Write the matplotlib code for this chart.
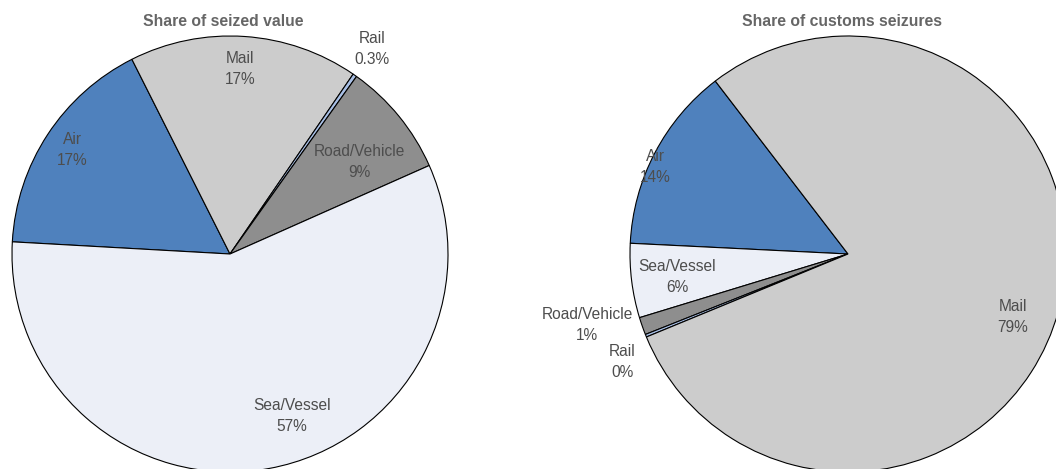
import matplotlib
matplotlib.use("Agg")
import matplotlib.pyplot as plt

plt.rcParams['font.family'] = ['Liberation Sans', 'DejaVu Sans']

# ---- data ----
left_title = "Share of seized value"
left_cats = ["Air", "Mail", "Rail", "Road/Vehicle", "Sea/Vessel"]
left_vals = [16.7, 17.0, 0.3, 8.5, 57.6]
left_labels = ["17%", "17%", "0.3%", "9%", "57%"]

right_title = "Share of customs seizures"
right_cats = ["Air", "Sea/Vessel", "Road/Vehicle", "Rail", "Mail"]
right_vals = [13.8, 5.5, 1.3, 0.2, 79.2]
right_labels = ["14%", "6%", "1%", "0%", "79%"]

colors = {"Air": "#4F81BD", "Mail": "#CCCCCC", "Rail": "#A9C0E6",
          "Road/Vehicle": "#8E8E8E", "Sea/Vessel": "#ECEFF7"}

W, H = 1056, 469
fig = plt.figure(figsize=(W / 100, H / 100), dpi=100)
txt_color = "#4D4D4D"
R = 218


def make_axes(cx, cy):
    return fig.add_axes([(cx - R) / W, (H - cy - R) / H, 2 * R / W, 2 * R / H])


def draw(ax, cats, vals, start, ccw, title, labels, label_pos, title_xy):
    ax.pie(vals, colors=[colors[c] for c in cats], startangle=start,
           counterclock=ccw, radius=1,
           wedgeprops=dict(edgecolor="black", linewidth=0.8, clip_on=False))
    ax.set_xlim(-1, 1)
    ax.set_ylim(-1, 1)
    ax.set_aspect('equal')
    ax.axis('off')
    for c, lab in zip(cats, labels):
        px, py = label_pos[c]
        ax.text(px, py, f"{c}\n{lab}", ha="center", va="center", fontsize=11.2,
                color=txt_color, linespacing=1.45)
    fig.text(title_xy[0] / W, 1 - title_xy[1] / H, title, ha="center", va="center",
             fontsize=11.3, fontweight="bold", color="#666666")


def to_data(cx, cy, x, y):
    return ((x - cx) / R, (cy - y) / R)


lcx, lcy = 230, 254
axl = make_axes(lcx, lcy)
lpos_px = {"Air": (72, 150), "Mail": (240, 69), "Rail": (372, 49),
           "Road/Vehicle": (359, 162), "Sea/Vessel": (292, 416)}
lpos = {k: to_data(lcx, lcy, *v) for k, v in lpos_px.items()}
draw(axl, left_cats, left_vals, 176.8, False, left_title, left_labels, lpos, (223, 22))

rcx, rcy = 848, 254
axr = make_axes(rcx, rcy)
rpos_px = {"Air": (655, 167), "Sea/Vessel": (677, 277), "Road/Vehicle": (587, 325),
           "Rail": (622, 362), "Mail": (1013, 317)}
rpos = {k: to_data(rcx, rcy, *v) for k, v in rpos_px.items()}
draw(axr, right_cats, right_vals, 127.5, True, right_title, right_labels, rpos, (842, 22))

fig.savefig("out.png", dpi=100)
